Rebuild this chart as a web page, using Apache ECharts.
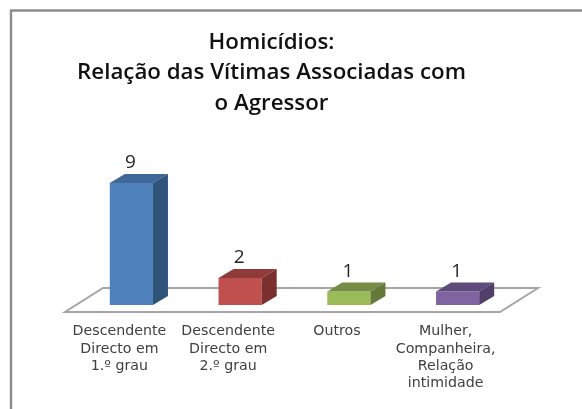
<!DOCTYPE html>
<html><head><meta charset="utf-8">
<style>html,body{margin:0;padding:0;background:#fff}#c{width:582px;height:409px;filter:blur(0.45px)}</style>
<script src="https://cdn.jsdelivr.net/npm/echarts@6/dist/echarts.min.js"></script>
</head><body><div id="c"></div>
<script>
const categories = ["Descendente\nDirecto em\n1.º grau", "Descendente\nDirecto em\n2.º grau", "Outros", "Mulher,\nCompanheira,\nRelação\nintimidade"];
const values = [9, 2, 1, 1];
const frontColors = ["#4f81bd", "#c0504d", "#9bbb59", "#8064a2"];
const topColors = ["#3f6797", "#8e3b39", "#748c43", "#5f4b79"];
const sideColors = ["#305379", "#7a302f", "#65793a", "#523f69"];
const titleText = "Homicídios:\nRelação das Vítimas Associadas com\no Agressor";

const chart = echarts.init(document.getElementById('c'), null, {renderer: 'canvas'});
const dx = 15, dy = 9, offX = 12, offY = 7, floorX = 38, floorY = 24;

function renderFloor(params, api) {
  const g = params.coordSys;
  const x0 = g.x, x1 = g.x + g.width, y = g.y + g.height;
  return {type: 'polygon', shape: {points: [[x0, y], [x1, y], [x1 + floorX, y - floorY], [x0 + floorX, y - floorY]]},
    style: {fill: '#ffffff', stroke: '#a6a6a6', lineWidth: 2}};
}
function renderBar(params, api) {
  const i = api.value(0), v = api.value(1);
  const top = api.coord([i, v]), base = api.coord([i, 0]);
  const w = api.size([1, 0])[0] * 0.397;
  const l = top[0] + offX - w / 2, r = l + w, t = top[1] - offY, b = base[1] - offY;
  return {type: 'group', children: [
    {type: 'rect', shape: {x: l, y: t, width: w, height: b - t}, style: {fill: frontColors[i]}},
    {type: 'polygon', shape: {points: [[l, t], [r, t], [r + dx, t - dy], [l + dx, t - dy]]}, style: {fill: topColors[i]}},
    {type: 'polygon', shape: {points: [[r, t], [r + dx, t - dy], [r + dx, b - dy], [r, b]]}, style: {fill: sideColors[i]}},
    {type: 'text', style: {text: String(v), x: l + w / 2 - 1, y: t - 20, align: 'center', verticalAlign: 'middle',
      font: '19px "Open Sans"', fill: '#262626'}}
  ]};
}
chart.setOption({
  animation: false,
  backgroundColor: '#ffffff',
  title: {text: titleText, left: 266.5, top: 22, textAlign: 'center',
    textStyle: {fontFamily: 'Open Sans', fontSize: 22.3, fontWeight: 600, lineHeight: 30.5, color: '#111'}},
  graphic: [{type: 'polyline', shape: {points: [[11, 409], [11, 10.5], [582, 10.5]]}, style: {fill: 'none', stroke: '#8c8c8c', lineWidth: 2.4}}],
  grid: {left: 65, right: 82, top: 190, bottom: 97},
  xAxis: {type: 'category', data: categories, axisLine: {show: false}, axisTick: {show: false},
    axisLabel: {interval: 0, margin: 11, color: '#404040', fontFamily: 'DejaVu Sans', fontSize: 14.2, lineHeight: 17.3}},
  yAxis: {type: 'value', min: 0, max: 9, show: false, splitLine: {show: false}},
  series: [
    {type: 'custom', z: 1, silent: true, data: [[0, 0]], renderItem: renderFloor, encode: {x: 0, y: 1}},
    {type: 'custom', z: 2, silent: true, data: values.map((v, i) => [i, v]), renderItem: renderBar, encode: {x: 0, y: 1}}
  ]
});
</script></body></html>
